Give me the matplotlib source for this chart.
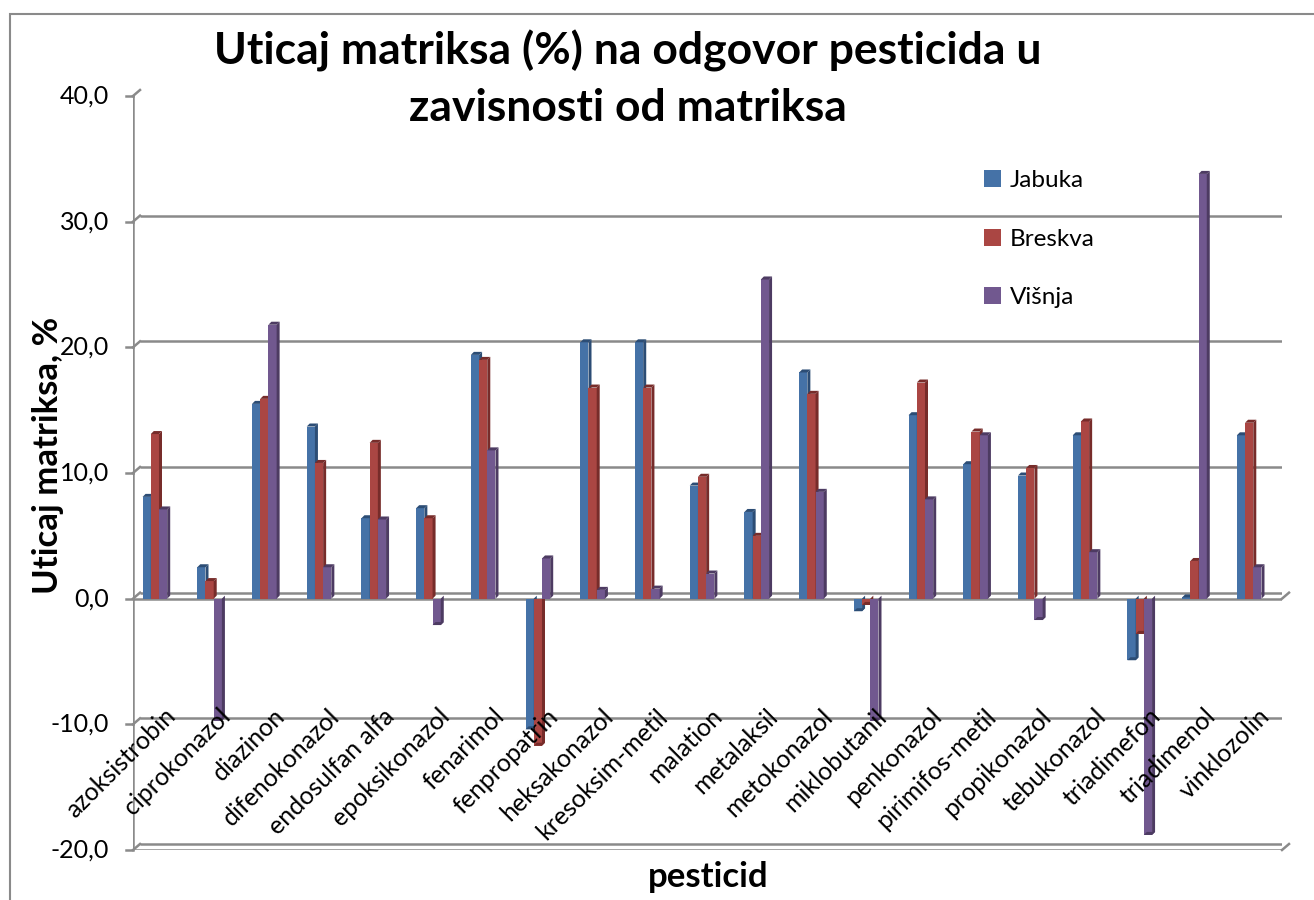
import matplotlib
matplotlib.use("Agg")
import matplotlib.pyplot as plt
import matplotlib.transforms as mtransforms
from matplotlib.patches import Polygon, Rectangle
from matplotlib.lines import Line2D
import numpy as np

plt.rcParams["font.family"] = ["Lato", "DejaVu Sans"]

pesticidi = ["azoksistrobin", "ciprokonazol", "diazinon", "difenokonazol",
             "endosulfan alfa", "epoksikonazol", "fenarimol", "fenpropatrin",
             "heksakonazol", "kresoksim-metil", "malation", "metalaksil",
             "metokonazol", "miklobutanil", "penkonazol", "pirimifos-metil",
             "propikonazol", "tebukonazol", "triadimefon", "triadimenol",
             "vinklozolin"]
jabuka = [8.1, 2.5, 15.5, 13.7, 6.4, 7.2, 19.4, -10.4, 20.4, 20.4, 9.0,
          6.9, 18.0, -1.0, 14.6, 10.7, 9.8, 13.0, -4.9, 0.1, 13.0]
breskva = [13.1, 1.4, 15.9, 10.8, 12.4, 6.4, 19.0, -11.7, 16.8, 16.8, 9.7,
           5.0, 16.3, -0.5, 17.2, 13.3, 10.4, 14.1, -2.8, 3.0, 14.0]
visnja = [7.1, -9.7, 21.8, 2.5, 6.3, -2.1, 11.8, 3.2, 0.7, 0.8, 2.0,
          25.4, 8.5, -9.7, 7.9, 13.0, -1.7, 3.7, -18.8, 33.8, 2.5]
serije = ["Jabuka", "Breskva", "Višnja"]
yticks = [40, 30, 20, 10, 0, -10, -20]

# front / side colours for the fake 3D look
front = ["#4572A7", "#AA4643", "#71588F"]
side = ["#2C4D75", "#772C2A", "#4D3B62"]
grid_c = "#8a8a8a"

W, H = 1314, 900
fig = plt.figure(figsize=(W / 100, H / 100), dpi=100, facecolor="white")
ax = fig.add_axes([133 / W, 1 - 850 / H, 1149 / W, (850 - 96) / H])
ax.set_xlim(-0.40, 20.60)
ax.set_ylim(-20, 40)
ax.axis("off")

# depth offset of the back wall in pixels
back = ax.transData + mtransforms.ScaledTranslation(0.07, 0.06, fig.dpi_scale_trans)
x0, x1 = ax.get_xlim()
for v in yticks:
    ax.plot([x0, x0], [v, v], color=grid_c, lw=1.8, zorder=1)
    ax.plot([x0, x1], [v, v], color=grid_c, lw=1.8, transform=back, zorder=1,
            solid_capstyle="butt")
    # slanted connector from the axis to the back wall
    p_front = ax.transData.transform((x0, v))
    p_back = back.transform((x0, v))
    fig.add_artist(Line2D([p_front[0] / W, p_back[0] / W], [p_front[1] / H, p_back[1] / H],
                          color=grid_c, lw=1.8))
    # tick mark
    fig.add_artist(Line2D([(p_front[0] - 7) / W, p_front[0] / W], [p_front[1] / H] * 2,
                          color=grid_c, lw=1.8))
    ax.text(x0, v, f"{v:.1f}".replace(".", ","), ha="right", va="center",
            fontsize=18, transform=ax.transData + mtransforms.ScaledTranslation(
                -0.24, 0, fig.dpi_scale_trans))

# floor lines at 0 and -20 (front edge)
for v in [0, -20]:
    ax.plot([x0, x1], [v, v], color=grid_c, lw=1.8, zorder=1)
    pf = ax.transData.transform((x1, v))
    pb = back.transform((x1, v))
    fig.add_artist(Line2D([pf[0] / W, pb[0] / W], [pf[1] / H, pb[1] / H], color=grid_c, lw=1.8))
ax.plot([x0, x0], [-20, 40], color=grid_c, lw=1.8, zorder=1)

# bars
x = np.arange(len(pesticidi))
bw = 0.15
dx = 0.055
dy = 3.0 / 12.56
for k, vals in enumerate([jabuka, breskva, visnja]):
    xs = x + (k - 1) * bw
    ax.bar(xs, vals, width=bw, color=front[k], label=serije[k], zorder=3 + 2 * k)
    for xc, h in zip(xs, vals):
        xr = xc + bw / 2
        xl = xc - bw / 2
        ax.add_patch(Polygon([(xr, 0), (xr + dx, dy), (xr + dx, h + dy), (xr, h)],
                             closed=True, color=side[k], lw=0, zorder=4 + 2 * k))
        ax.add_patch(Polygon([(xl, h), (xl + dx, h + dy), (xr + dx, h + dy), (xr, h)],
                             closed=True, color=side[k], lw=0, zorder=4 + 2 * k))

# category labels
for i, name in enumerate(pesticidi):
    ax.text(i + 0.16, -8.4, name, rotation=45, rotation_mode="anchor",
            ha="right", va="top", fontsize=18, zorder=10)

leg = ax.legend(loc="upper left", bbox_to_anchor=(984 / W, 1 - 170 / H),
                bbox_transform=fig.transFigure, frameon=False, fontsize=17.5,
                handlelength=0.7, handleheight=0.7, handletextpad=0.35,
                labelspacing=1.55, borderpad=0, borderaxespad=0)

fig.text(628 / W, 1 - 65 / H, "Uticaj matriksa (%) na odgovor pesticida u",
         ha="center", va="baseline", fontsize=32, fontweight="bold")
fig.text(628 / W, 1 - 121 / H, "zavisnosti od matriksa",
         ha="center", va="baseline", fontsize=32, fontweight="bold")
fig.text(48 / W, 1 - 455 / H, "Uticaj matriksa, %", rotation=90, ha="center",
         va="center", fontsize=25, fontweight="bold")
fig.text(708 / W, 1 - 877 / H, "pesticid", ha="center", va="center",
         fontsize=25, fontweight="bold")

fig.add_artist(Rectangle((10 / W, -0.1), 1.2, 1 - 14 / H + 0.1, fill=False,
                         edgecolor="#8a8a8a", lw=1.5, transform=fig.transFigure))

fig.savefig("out.png", dpi=100)
